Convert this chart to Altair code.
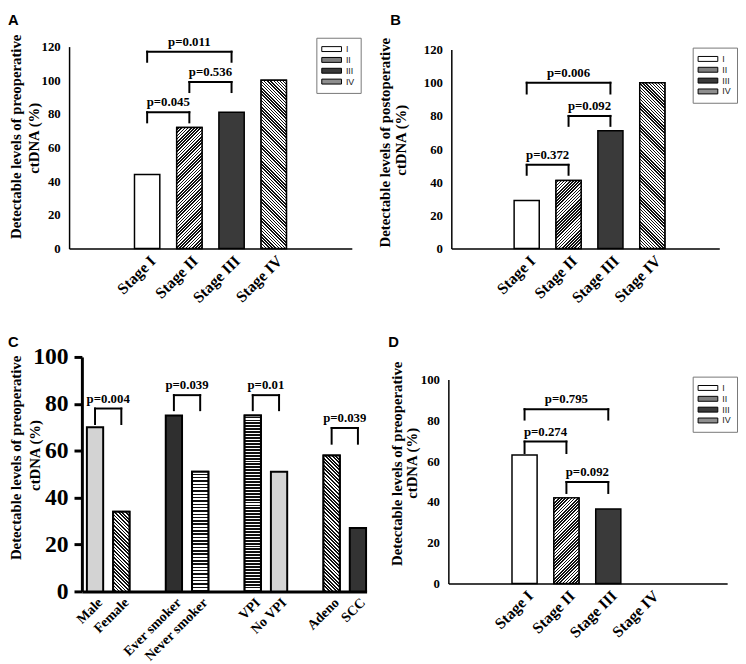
import altair as alt
import pandas as pd

SERIF = "Liberation Serif"
SANS = "Liberation Sans"

# ---------------- data ----------------
letters = ["A", "B", "C", "D"]
stages = ["Stage I", "Stage II", "Stage III", "Stage IV"]
stage_fills = ["#ffffff", "#7f7f7f", "#3a3a3a", "#8e8e8e"]
# hatch style per stage: (direction, period px, dark fraction)
stage_hatch = [None, ("up", 3.2, 0.5), None, ("down", 3.2, 0.45)]

a_values = [44, 72, 81, 100]
b_values = [29, 41, 71, 100]
d_values = [63, 42, 36.5, 0]

a_br_left = [0, 1, 0]
a_br_right = [2, 2, 1]
a_br_top = [117, 99, 81]
a_br_leg = [111, 93, 75]
a_br_label = ["p=0.011", "p=0.536", "p=0.045"]

b_br_left = [0, 1, 0]
b_br_right = [2, 2, 1]
b_br_top = [100, 80, 50.5]
b_br_leg = [93.5, 74, 44.5]
b_br_label = ["p=0.006", "p=0.092", "p=0.372"]

d_br_left = [0, 0, 1]
d_br_right = [2, 1, 2]
d_br_top = [85.5, 69.6, 49.8]
d_br_leg = [80.4, 64, 44.4]
d_br_label = ["p=0.795", "p=0.274", "p=0.092"]

c_groups = ["Male", "Female", "Ever smoker", "Never smoker", "VPI", "No VPI", "Adeno", "SCC"]
c_values = [70, 34, 75, 51, 75, 51, 58, 27]
c_fills = ["#d3d3d3", "#767676", "#2f2f2f", "#6e6e6e", "#555555", "#d3d3d3", "#707070", "#333333"]
c_hatch = [None, ("down", 3.6, 0.5), None, ("horiz", 3.4, 0.45),
           ("horiz", 3.0, 0.65), None, ("down", 3.6, 0.55), None]

c_br_left = [0, 2, 4, 6]      # index of first group of the pair
c_br_right = [1, 3, 5, 7]
c_br_top = [78, 83.7, 83.7, 69.7]
c_br_leg = [71.4, 77.3, 77.3, 63]
c_br_label = ["p=0.004", "p=0.039", "p=0.01", "p=0.039"]

title_pre = ["Detectable levels of preoperative", "ctDNA (%)"]
title_post = ["Detectable levels of postoperative", "ctDNA  (%)"]


def label_expr(names, positions):
    n = int(max(positions)) + 1
    arr = [""] * n
    for name, p in zip(names, positions):
        arr[int(p)] = name
    return "[" + ",".join("'" + s + "'" for s in arr) + "][datum.value]"


def hatch_gradient(kind, w, h, period, frac):
    """Stripe texture built from a linear gradient in bounding-box units."""
    if kind == "horiz":
        length = h
        x1, y1, x2, y2 = 0, 0, 0, 1
    else:
        length = w + h
        c = (w + h) / (w * w + h * h)
        if kind == "up":
            x1, y1, x2, y2 = 0, 0, c * w, c * h
        else:
            x1, y1, x2, y2 = 0, 1, c * w, 1 - c * h
    n = max(1, int(round(length / period)))
    stops = []
    for k in range(n):
        a, b, e = k / n, (k + 1 - frac) / n, (k + 1) / n
        stops += [{"offset": a, "color": "#ffffff"}, {"offset": b, "color": "#ffffff"},
                  {"offset": b, "color": "#111111"}, {"offset": e, "color": "#111111"}]
    return {"gradient": "linear", "x1": x1, "y1": y1, "x2": x2, "y2": y2, "stops": stops}


def make_panel(letter, cats, vals, positions, fills, hatches, br, xdom, ydom, yvals,
               width, height, xrange, yrange, title, title_x, title_y, line2_xy,
               letter_xy, legend, halfw, xlab_size, big=False):
    df = pd.DataFrame({"cat": cats, "value": vals, "pos": positions})
    bdf = pd.DataFrame({
        "left": [positions[i] for i in br[0]],
        "right": [positions[i] for i in br[1]],
        "top": br[2], "leg": br[3], "label": br[4]})
    xs = alt.Scale(domain=xdom, range=xrange, nice=False, zero=False)
    ys = alt.Scale(domain=ydom, range=yrange, nice=False, zero=True)
    dom_w = 3 if big else 1.5
    x_axis = alt.Axis(values=positions, labelExpr=label_expr(cats, positions),
                      labelAngle=-45, labelAlign="right", labelBaseline="top",
                      ticks=False, tickSize=0, labelPadding=4, grid=False, title=None,
                      domainColor="black", domainWidth=dom_w,
                      labelFont=SERIF, labelFontWeight="bold", labelFontSize=xlab_size,
                      labelColor="black", labelFlush=False, labelOverlap=False)
    y_common = dict(values=yvals, format="d", grid=False, domainColor="black",
                    domainWidth=dom_w, labelFont=SERIF, labelFontWeight="bold",
                    labelColor="black", labelFlush=False, labelOverlap=False,
                    offset=-xrange[0],
                    title=title[0], titleFont=SERIF, titleFontWeight="bold",
                    titleFontSize=15, titleColor="black", titleX=title_x,
                    titleY=title_y, titleAngle=-90, titleBaseline="middle",
                    titleAlign="center")
    if big:
        y_axis = alt.Axis(ticks=True, tickSize=8, tickWidth=3, tickColor="black",
                          labelPadding=6, labelFontSize=24, **y_common)
    else:
        y_axis = alt.Axis(ticks=False, tickSize=0, labelPadding=9,
                          labelFontSize=13, **y_common)

    X = lambda f: alt.X(f, type="quantitative", scale=xs, axis=x_axis)
    Y = lambda f: alt.Y(f, type="quantitative", scale=ys, axis=y_axis, stack=None)
    sw = 2 if big else 1.5
    calc = dict(x1=f"datum.pos - {halfw}", x2=f"datum.pos + {halfw}", base="0")

    bars = alt.Chart(df).transform_filter("datum.value > 0").transform_calculate(
        **calc).mark_bar(stroke="black", strokeWidth=sw).encode(
        x=X("x1"), x2="x2:Q", y=Y("value"), y2="base:Q",
        color=alt.Color("cat:N", scale=alt.Scale(domain=cats, range=fills), legend=legend))
    layers = [bars]

    # textured overlays for hatched bars
    px_x = (xrange[1] - xrange[0]) / (xdom[1] - xdom[0])
    px_y = (yrange[0] - yrange[1]) / (ydom[1] - ydom[0])
    for i, hatch in enumerate(hatches):
        if hatch is None or vals[i] <= 0:
            continue
        w = 2 * halfw * px_x
        hgt = vals[i] * px_y
        grad = hatch_gradient(hatch[0], w, hgt, hatch[1], hatch[2])
        layers.append(alt.Chart(df.iloc[[i]]).transform_calculate(**calc).mark_bar(
            fill=grad, stroke="black", strokeWidth=sw).encode(
            x=X("x1"), x2="x2:Q", y=Y("value"), y2="base:Q"))

    rule_kw = dict(color="black", strokeWidth=2, strokeCap="square")
    h = alt.Chart(bdf).mark_rule(**rule_kw).encode(x=X("left"), x2="right:Q", y=Y("top"))
    lft = alt.Chart(bdf).mark_rule(**rule_kw).encode(x=X("left"), y=Y("leg"), y2="top:Q")
    rgt = alt.Chart(bdf).mark_rule(**rule_kw).encode(x=X("right"), y=Y("leg"), y2="top:Q")
    txt = alt.Chart(bdf).transform_calculate(mid="(datum.left + datum.right) / 2").mark_text(
        dy=-6, baseline="alphabetic", font=SERIF, fontWeight="bold", fontSize=13,
        color="black", clip=big).encode(x=X("mid"), y=Y("top"), text="label:N")
    let = alt.Chart(pd.DataFrame({"t": [letter]})).mark_text(
        align="left", baseline="top", font=SANS, fontWeight="bold", fontSize=15,
        color="black", x=letter_xy[0], y=letter_xy[1]).encode(text="t:N")
    line2 = alt.Chart(pd.DataFrame({"t": [title[1]]})).mark_text(
        angle=270, align="center", baseline="middle", font=SERIF, fontWeight="bold",
        fontSize=15, color="black", x=line2_xy[0], y=line2_xy[1]).encode(text="t:N")
    layers += [h, lft, rgt, txt, let, line2]
    return alt.layer(*layers).properties(width=width, height=height)


def stage_legend(lx, ly):
    return alt.Legend(orient="none", legendX=lx, legendY=ly, title=None,
                      symbolType="M-2,-0.5H2V0.5H-2Z", symbolSize=100,
                      symbolStrokeColor="black", symbolStrokeWidth=1,
                      symbolOffset=4,
                      labelFont=SANS, labelFontSize=9, labelColor="#222",
                      labelExpr="replace(datum.label, 'Stage ', '')",
                      strokeColor="#777", fillColor="white", padding=6,
                      rowPadding=0, labelOffset=9)


stage_pos = list(range(len(stages)))
c_pos = [i + i // 2 for i in range(len(c_groups))]
yt120 = [0, 20, 40, 60, 80, 100, 120]
yt100 = [0, 20, 40, 60, 80, 100]

# panel origins: col 1 x=70, col 2 x=455, row 1 y=42, row 2 y=357 (page px)
A = make_panel(letters[0], stages, a_values, stage_pos, stage_fills, stage_hatch,
               (a_br_left, a_br_right, a_br_top, a_br_leg, a_br_label),
               [-1.85, 4.85], [0, 120], yt120, 287, 205, [0, 287], [205, 0],
               title_pre, -54.5, 91, (-36, 93), (-62, -34), stage_legend(251, -9), 0.3, 16)
B = make_panel(letters[1], stages, b_values, stage_pos, stage_fills, stage_hatch,
               (b_br_left, b_br_right, b_br_top, b_br_leg, b_br_label),
               [-1.8, 4.6], [0, 120], yt120, 275, 205, [3, 275], [205, 3],
               title_post, -68, 97, (-48, 95), (-59, -34), stage_legend(248, 1), 0.3, 16)
C = make_panel(letters[2], c_groups, c_values, c_pos, c_fills, c_hatch,
               (c_br_left, c_br_right, c_br_top, c_br_leg, c_br_label),
               [-0.5, 10.33], [0, 100], yt100, 302, 238, [13, 302], [238, 0],
               title_pre, -67.5, 102, (-35, 100), (-62, -22), None, 0.31, 14, big=True)
D = make_panel(letters[3], stages, d_values, stage_pos, stage_fills, stage_hatch,
               (d_br_left, d_br_right, d_br_top, d_br_leg, d_br_label),
               [-1.82, 4.84], [0, 100], yt100, 283, 230, [0, 283], [230, 23],
               title_pre, -53, 108, (-37, 108), (-61, -22), stage_legend(248, 20), 0.3, 16)

chart = alt.concat(A, B, C, D, columns=2, align="none", bounds="flush",
                   spacing={"row": 110, "column": 83}).resolve_scale(
    color="independent").resolve_legend(color="independent").properties(
    padding={"left": 0, "top": 0, "right": 0, "bottom": 30},
    background="white").configure_view(stroke=None)

chart.save("out.html", embed_options={"renderer": "svg", "actions": False})
